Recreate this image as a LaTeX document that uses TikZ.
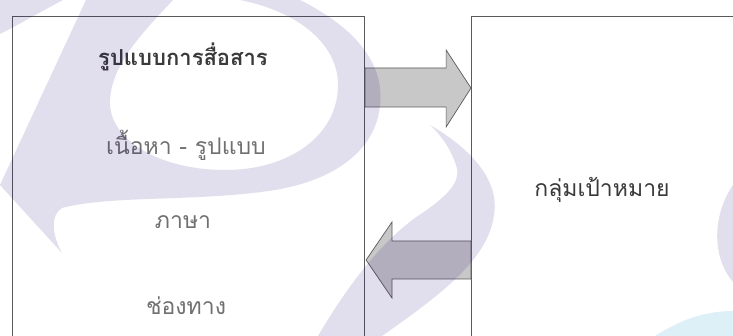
\documentclass[tikz,border=0pt]{standalone}
\usepackage{fontspec}
\newfontfamily\thaifont[Script=Thai]{Loma}
\usetikzlibrary{calc}
\definecolor{boxline}{HTML}{5A5A5A}
\definecolor{arrowfill}{HTML}{C8C8C8}
\definecolor{wm}{RGB}{30,0,120}
\definecolor{wmblue}{HTML}{DDF0F7}
\definecolor{txtdark}{HTML}{3A3A3A}
\definecolor{txtlight}{HTML}{707070}
\begin{document}
\begin{tikzpicture}[x=1pt,y=-1pt,
  panel/.style={draw=boxline, line width=1.1pt, fill=white},
  blockarrow/.style={draw=boxline, line width=0.7pt, fill=arrowfill, line join=miter},
  itemtext/.style={font=\thaifont\fontsize{23}{26}\selectfont, text=txtlight, inner sep=0pt},
  titletext/.style={font=\thaifont\bfseries\fontsize{22}{26}\selectfont, text=txtdark, inner sep=0pt},
  watermark/.style={fill=wm, fill opacity=0.13}]
\useasboundingbox (0,0) rectangle (733,336);
\fill[white] (0,0) rectangle (733,336);
\clip (0,0) rectangle (733,336);
% panels
\node[panel, anchor=north west, minimum width=352pt, minimum height=340pt] (L) at (12,16) {};
\node[panel, anchor=north west, minimum width=290pt, minimum height=340pt] (R) at (471,16) {};
% block arrows
\draw[blockarrow] ($(L.north east)+(0,52)$) -- ($(L.north east)+(81,52)$) -- ($(L.north east)+(81,34)$)
  -- ($(R.north west)+(0,72)$) -- ($(L.north east)+(81,111)$) -- ($(L.north east)+(81,91)$)
  -- ($(L.north east)+(0,91)$) -- cycle;
\draw[blockarrow] ($(R.north west)+(0,225)$) -- ($(R.north west)+(-79,225)$) -- ($(R.north west)+(-79,206)$)
  -- ($(L.north east)+(1,244)$) -- ($(R.north west)+(-79,282)$) -- ($(R.north west)+(-79,263)$)
  -- ($(R.north west)+(0,263)$) -- cycle;
% texts
\node[titletext] (t1) at (183,57) {รูปแบบการสื่อสาร};
\node[itemtext] (t2) at (186,145) {เนื้อหา - รูปแบบ};
\node[itemtext] (t3) at (183,222) {ภาษา};
\node[itemtext] (t4) at (186,306) {ช่องทาง};
\node[itemtext, text=txtdark] (t5) at (602,190) {กลุ่มเป้าหมาย};
% watermark
\fill[watermark] (0,0) -- (63,0) .. controls (40,12) and (20,24) .. (0,34) -- cycle;
\fill[watermark] (86,0) -- (173,0)
  .. controls (140,35) and (112,65) .. (110,100)
  .. controls (108,140) and (160,170) .. (225,170)
  .. controls (290,170) and (338,135) .. (338,85)
  .. controls (338,45) and (300,12) .. (240,0)
  -- (300,0)
  .. controls (350,25) and (385,60) .. (380,105)
  .. controls (376,150) and (335,180) .. (275,190)
  .. controls (200,202) and (110,195) .. (62,208)
  .. controls (50,215) and (52,235) .. (62,253)
  -- (0,185) -- cycle;
\fill[watermark] (430,125) .. controls (470,148) and (500,180) .. (494,215)
  .. controls (488,260) and (440,295) .. (382,336)
  -- (318,336)
  .. controls (345,290) and (378,245) .. (415,218)
  .. controls (448,196) and (462,182) .. (456,165)
  .. controls (451,150) and (442,136) .. (430,125) -- cycle;
\fill[watermark] (733,185) .. controls (714,212) and (710,255) .. (733,282) -- cycle;
\fill[wmblue] (655,336) .. controls (680,320) and (705,311) .. (733,311) -- (733,336) -- cycle;
\end{tikzpicture}
\end{document}
